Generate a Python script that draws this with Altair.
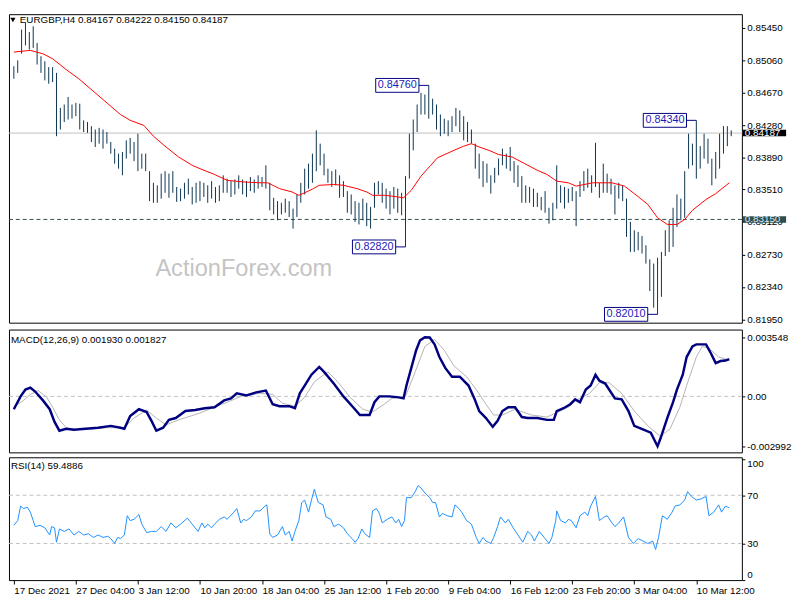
import altair as alt
import pandas as pd

# ---------------- data ----------------
header_text = "EURGBP,H4  0.84167 0.84222 0.84150 0.84187"
macd_header = "MACD(12,26,9) 0.001930 0.001827"
rsi_header = "RSI(14) 59.4886"
watermark = "ActionForex.com"

bar_high = [
    0.8499, 0.8506, 0.8543, 0.8551, 0.8540, 0.8547, 0.8527, 0.8511, 0.8505, 0.8498,
    0.8498, 0.8491, 0.8449, 0.8453, 0.8462, 0.8453, 0.8455, 0.8454, 0.8434, 0.8432,
    0.8427, 0.8423, 0.8425, 0.8423, 0.8420, 0.8408, 0.8400, 0.8394, 0.8396, 0.8410,
    0.8413, 0.8408, 0.8418, 0.8394, 0.8394, 0.8373, 0.8359, 0.8356, 0.8370, 0.8373,
    0.8370, 0.8373, 0.8354, 0.8352, 0.8359, 0.8364, 0.8354, 0.8359, 0.8361, 0.8359,
    0.8356, 0.8361, 0.8354, 0.8356, 0.8368, 0.8364, 0.8361, 0.8363, 0.8368, 0.8363,
    0.8361, 0.8366, 0.8363, 0.8368, 0.8366, 0.8380, 0.8359, 0.8341, 0.8337, 0.8335,
    0.8340, 0.8337, 0.8328, 0.8345, 0.8359, 0.8376, 0.8382, 0.8394, 0.8422, 0.8406,
    0.8394, 0.8376, 0.8373, 0.8375, 0.8368, 0.8361, 0.8349, 0.8345, 0.8337, 0.8335,
    0.8340, 0.8335, 0.8330, 0.8359, 0.8361, 0.8359, 0.8352, 0.8349, 0.8354, 0.8352,
    0.8347, 0.8367, 0.8418, 0.8435, 0.8453, 0.8467, 0.8465, 0.8476, 0.8460, 0.8453,
    0.8441, 0.8436, 0.8434, 0.8439, 0.8449, 0.8446, 0.8439, 0.8432, 0.8423, 0.8406,
    0.8394, 0.8385, 0.8382, 0.8368, 0.8377, 0.8388, 0.8400, 0.8394, 0.8402, 0.8385,
    0.8380, 0.8367, 0.8356, 0.8354, 0.8352, 0.8347, 0.8342, 0.8349, 0.8329, 0.8335,
    0.8380, 0.8356, 0.8354, 0.8352, 0.8354, 0.8349, 0.8361, 0.8373, 0.8376, 0.8368,
    0.8407, 0.8359, 0.8382, 0.8370, 0.8364, 0.8356, 0.8359, 0.8356, 0.8340, 0.8312,
    0.8302, 0.8300, 0.8295, 0.8284, 0.8267, 0.8262, 0.8269, 0.8276, 0.8302, 0.8314,
    0.8329, 0.8345, 0.8340, 0.8373, 0.8418, 0.8406, 0.8434, 0.8403, 0.8418, 0.8412,
    0.8388, 0.8396, 0.8418, 0.8427, 0.8427, 0.8422,
]
bar_low = [
    0.8484, 0.8491, 0.8514, 0.8524, 0.8519, 0.8521, 0.8501, 0.8491, 0.8482, 0.8478,
    0.8480, 0.8415, 0.8423, 0.8432, 0.8435, 0.8436, 0.8439, 0.8423, 0.8420, 0.8419,
    0.8408, 0.8402, 0.8406, 0.8400, 0.8406, 0.8394, 0.8382, 0.8376, 0.8368, 0.8388,
    0.8394, 0.8385, 0.8373, 0.8376, 0.8373, 0.8337, 0.8335, 0.8335, 0.8340, 0.8347,
    0.8341, 0.8347, 0.8336, 0.8337, 0.8340, 0.8345, 0.8333, 0.8335, 0.8337, 0.8342,
    0.8335, 0.8340, 0.8335, 0.8337, 0.8347, 0.8347, 0.8342, 0.8345, 0.8352, 0.8345,
    0.8342, 0.8349, 0.8347, 0.8352, 0.8354, 0.8352, 0.8326, 0.8321, 0.8314, 0.8321,
    0.8323, 0.8318, 0.8304, 0.8318, 0.8335, 0.8345, 0.8352, 0.8359, 0.8373, 0.8380,
    0.8368, 0.8359, 0.8354, 0.8356, 0.8341, 0.8342, 0.8323, 0.8321, 0.8312, 0.8309,
    0.8314, 0.8307, 0.8304, 0.8329, 0.8345, 0.8335, 0.8328, 0.8321, 0.8328, 0.8323,
    0.8320, 0.8282, 0.8364, 0.8398, 0.8420, 0.8441, 0.8441, 0.8436, 0.8441, 0.8423,
    0.8415, 0.8418, 0.8415, 0.8420, 0.8427, 0.8420, 0.8410, 0.8408, 0.8406, 0.8376,
    0.8364, 0.8354, 0.8359, 0.8346, 0.8359, 0.8368, 0.8380, 0.8376, 0.8373, 0.8359,
    0.8354, 0.8335, 0.8335, 0.8335, 0.8330, 0.8330, 0.8326, 0.8323, 0.8310, 0.8314,
    0.8328, 0.8335, 0.8328, 0.8335, 0.8337, 0.8307, 0.8342, 0.8349, 0.8353, 0.8347,
    0.8354, 0.8341, 0.8347, 0.8347, 0.8345, 0.8321, 0.8340, 0.8337, 0.8294, 0.8276,
    0.8276, 0.8278, 0.8274, 0.8262, 0.8229, 0.8209, 0.8201, 0.8222, 0.8271, 0.8276,
    0.8282, 0.8306, 0.8314, 0.8317, 0.8376, 0.8380, 0.8364, 0.8376, 0.8388, 0.8382,
    0.8356, 0.8364, 0.8376, 0.8394, 0.8403, 0.8415,
]

ma_bar = [0, 4.25, 7.5, 10, 13.5, 16.75, 21, 24.25, 27.5, 30,
          33.5, 36, 39.25, 42.5, 46, 48, 51.75, 55, 59.25, 63.5,
          65.5, 68.5, 71.75, 73.5, 75, 77.25, 78.75, 82.5, 85, 88.5,
          91, 92.5, 95.5, 97.5, 100.5, 102.5, 105, 107.5, 109.25, 113.5,
          116, 118, 120, 122.5, 125, 128.5, 131.75, 135, 137.5, 140,
          143, 145, 149.25, 154.25, 157.5, 160, 163.5, 166, 168.5, 171,
          173, 175, 178.5, 181, 184.5]
ma_val = [0.8516, 0.8518, 0.8514, 0.8508, 0.8495, 0.8484, 0.8467, 0.8454, 0.8441, 0.8434,
          0.8428, 0.8415, 0.8402, 0.8390, 0.8380, 0.8376, 0.8369, 0.8362, 0.8360, 0.8359,
          0.8359, 0.8352, 0.8348, 0.8344, 0.8347, 0.8352, 0.8356, 0.8357, 0.8356, 0.8352,
          0.8348, 0.8344, 0.8344, 0.8343, 0.8341, 0.8350, 0.8367, 0.8380, 0.8389, 0.8398,
          0.8403, 0.8406, 0.8402, 0.8398, 0.8393, 0.8390, 0.8382, 0.8374, 0.8369, 0.8361,
          0.8359, 0.8355, 0.8359, 0.8359, 0.8355, 0.8346, 0.8333, 0.8317, 0.8309, 0.8309,
          0.8315, 0.8326, 0.8339, 0.8346, 0.8359]

macd_bar = [0, 1.75, 3, 4.25, 5.5, 7.5, 9.25, 10.5, 11.75, 13.5,
            15.5, 18.5, 21.75, 25, 27.5, 28.5, 30, 32.25, 34.25, 35.5,
            36.75, 38.5, 40, 41.75, 44.25, 46.75, 49.25, 51.75, 54.25, 56,
            57.5, 60, 62.5, 65, 66.75, 68.5, 71, 72.5, 73.75, 75,
            76.75, 78.75, 80, 82.5, 85, 87.5, 89.25, 91.75, 93, 94.25,
            96.75, 99.25, 100.5, 101.25, 102.5, 103.75, 104.75, 106, 107.25, 108.5,
            109.75, 111.25, 113, 115, 117.25, 118.75, 120, 121.75, 123.5, 124.75,
            126, 127.5, 129.25, 131, 132.5, 135, 137.5, 139.25, 140, 141.75,
            143.5, 144.75, 146, 147.5, 148.75, 150, 151, 152.5, 155, 156.75,
            158.5, 160, 161.75, 164.25, 166, 166.75, 168.5, 170, 171, 172.5,
            173.5, 175, 176, 178.5, 179.75, 181, 182.25, 183.5, 184.5]
macd_val = [-0.00077, 0.0, 0.00041, 0.00053, 0.00029, -0.00024, -0.00077, -0.00153, -0.00206, -0.00194,
            -0.00200, -0.00194, -0.00188, -0.00177, -0.00188, -0.00194, -0.00118, -0.00077, -0.00094, -0.00147,
            -0.00206, -0.00188, -0.00141, -0.00130, -0.00088, -0.00082, -0.00071, -0.00065, -0.00024, -0.00012,
            0.00018, 0.00006, 0.00024, 0.00035, -0.00047, -0.00059, -0.00059, -0.00071, 0.00018, 0.00065,
            0.00130, 0.00177, 0.00147, 0.00077, 0.0, -0.00065, -0.00112, -0.00112, -0.00035, 0.0,
            0.0, -0.00006, -0.00012, 0.00065, 0.00171, 0.00277, 0.00336, 0.003548, 0.00353, 0.00312,
            0.00236, 0.00171, 0.00118, 0.00118, 0.00065, -0.00012, -0.00088, -0.00130, -0.00183, -0.00147,
            -0.00088, -0.00065, -0.00065, -0.00124, -0.00130, -0.00130, -0.00141, -0.00141, -0.00088, -0.00071,
            -0.00047, -0.00018, -0.00035, 0.00041, 0.00065, 0.00130, 0.00094, 0.00077, -0.00012, -0.00018,
            -0.00088, -0.00177, -0.00194, -0.00218, -0.002992, -0.00253, -0.00130, -0.00035, 0.00041, 0.00130,
            0.00236, 0.00300, 0.00312, 0.00312, 0.00259, 0.00200, 0.00212, 0.00215, 0.00224]

signal_bar = [0, 2.5, 4.25, 6.25, 8.5, 10, 11.75, 13.5, 16, 24.25,
              28.5, 31, 34.25, 36.75, 39.25, 42.5, 48, 51, 55, 59.25,
              63.5, 66.75, 69.25, 72.5, 75, 77.5, 81, 83.5, 86.75, 90,
              92.5, 95.5, 97.5, 101, 103.5, 106, 108.5, 111, 113.5, 116.75,
              119.25, 121.75, 123.75, 126, 129.25, 133.5, 137.5, 143, 145, 148.5,
              151, 153.5, 156.75, 160, 163.5, 166.75, 169.25, 171.75, 173.5, 176,
              177.5, 179.25, 181.75, 184.5]
signal_val = [-0.00065, -0.00024, 0.00012, 0.00035, -0.00006, -0.00065, -0.00141, -0.00188, -0.00200, -0.00188,
              -0.00188, -0.00130, -0.00082, -0.00130, -0.00171, -0.00141, -0.00100, -0.00071, -0.00035, 0.00006,
              0.00018, 0.00012, -0.00041, -0.00059, -0.00006, 0.00088, 0.00147, 0.00088, -0.00006, -0.00077,
              -0.00094, -0.00047, -0.00012, 0.0, 0.00147, 0.00300, 0.00342, 0.00277, 0.00183, 0.00118,
              0.00041, -0.00047, -0.00112, -0.00112, -0.00077, -0.00112, -0.00124, -0.00065, -0.00024, 0.00018,
              0.00082, 0.00082, 0.00018, -0.00088, -0.00177, -0.00241, -0.00194, -0.00065, 0.00065, 0.00236,
              0.00300, 0.00289, 0.00236, 0.00218]

rsi_bar = [0, 1, 1.75, 2.5, 3.5, 4.25, 5, 5.5, 6.75, 8,
           9.25, 9.75, 10.5, 11, 11.75, 13, 14.25, 15.5, 16.75, 18,
           19.25, 20.5, 21.75, 23, 24.25, 25, 26, 26.75, 27.5, 28.5,
           29.25, 30, 31, 32.25, 33, 34.25, 35.5, 36.75, 38, 39.25,
           40.5, 41.75, 43, 44.75, 46, 47.5, 48.5, 49.25, 50, 51,
           51.75, 53, 54.25, 55, 56.75, 57.5, 58.5, 59.25, 60, 61.25,
           62.25, 63.5, 64.75, 65.25, 66, 66.75, 68, 69.25, 70, 71,
           71.75, 72.5, 73.5, 74.25, 75, 76, 76.75, 77.5, 78.5, 79.75,
           80.5, 81.75, 82.5, 83.75, 85, 86, 87.25, 88, 88.75, 89.75,
           90.5, 91.75, 92.5, 93.5, 94.25, 95, 96.25, 97.5, 98.5, 99.25,
           100, 100.75, 101.25, 102.5, 103.5, 104.25, 105, 106.25, 107.25, 108,
           108.75, 109.75, 110.5, 111.75, 113, 113.75, 114.75, 115.5, 116.75, 118,
           119.25, 120, 121, 121.75, 123, 123.75, 124.75, 125.5, 126.75, 127.5,
           128.75, 130, 131.25, 132.5, 133.5, 134.25, 135.5, 136.75, 138, 138.75,
           139.75, 140, 141, 142.25, 143, 143.75, 145, 146, 147.25, 148,
           148.75, 150, 151, 152.25, 153, 154.25, 155, 156, 157.25, 158.5,
           159.75, 161, 162.25, 163.5, 164.75, 165.5, 166.25, 167.25, 168.5, 169.75,
           170.5, 171.75, 173, 173.75, 174.75, 176, 177.25, 178.5, 179.25, 180.5,
           181.75, 182.5, 183.5, 184.5]
rsi_val = [45, 49, 61, 59, 60, 56, 49, 44, 45, 43,
           37, 44, 43, 31, 42, 40, 42, 37, 40, 37,
           38, 35, 37, 35, 36, 34, 30, 35, 34, 37,
           53, 49, 50, 54, 46, 39, 40, 40, 44, 40,
           47, 43, 46, 51, 46, 40, 47, 43, 46, 43,
           46, 50, 52, 50, 56, 59, 47, 50, 49, 52,
           57, 57, 61, 62, 38, 35, 37, 44, 37, 40,
           32, 40, 49, 64, 66, 56, 66, 75, 64, 62,
           52, 50, 44, 46, 43, 38, 34, 31, 34, 42,
           38, 35, 57, 59, 55, 47, 50, 52, 47, 50,
           44, 49, 68, 68, 73, 78, 76, 71, 68, 64,
           64, 52, 55, 53, 52, 62, 59, 56, 49, 46,
           35, 30, 35, 32, 30, 35, 44, 52, 47, 50,
           43, 37, 31, 40, 37, 32, 40, 35, 30, 35,
           49, 57, 49, 47, 50, 49, 43, 53, 56, 53,
           61, 69, 49, 52, 53, 47, 44, 47, 52, 35,
           30, 34, 32, 30, 32, 25, 35, 53, 50, 56,
           61, 62, 66, 73, 69, 66, 67, 69, 53, 56,
           62, 56, 61, 59.49]

price_ticks = [0.8545, 0.8506, 0.8467, 0.8428, 0.8389, 0.8351, 0.8312, 0.8273, 0.8234, 0.8195]
macd_ticks = [0.003548, 0.0, -0.002992]
rsi_ticks = [100, 70, 30, 0]
rsi_levels = [70, 30]
time_tick_bar = [0, 16, 32, 48, 64, 80, 96, 112, 128, 144, 160, 176]
time_tick_label = ["17 Dec 2021", "27 Dec 04:00", "3 Jan 12:00", "10 Jan 20:00", "18 Jan 04:00",
                   "25 Jan 12:00", "1 Feb 20:00", "9 Feb 04:00", "16 Feb 12:00", "23 Feb 20:00",
                   "3 Mar 04:00", "10 Mar 12:00"]

swing_bar = [107, 101, 176, 166]
swing_price = [0.8476, 0.8282, 0.8434, 0.8201]
swing_label = ["0.84760", "0.82820", "0.84340", "0.82010"]

support_level = 0.8315
last_price = 0.84187

# ---------------- style ----------------
FONT = "Liberation Sans"
W = 746
H_MAIN, H_SUB = 314, 125
BAR_COLOR = "#0A3350"
NAVY = "#000080"
TAG_BLUE = "#1A1AB8"

x_scale = alt.Scale(domain=[-1.25, 187.75], nice=False, zero=False)
price_scale = alt.Scale(domain=[0.8191, 0.85615], nice=False, zero=False)
macd_scale = alt.Scale(domain=[-0.00336, 0.00401], nice=False, zero=False)
rsi_scale = alt.Scale(domain=[-0.4, 101.5], nice=False, zero=False)


def right_axis(values, **kw):
    return alt.Axis(orient="right", values=values, title=None, grid=False, domain=False,
                    ticks=True, tickSize=3, tickColor="#000000", labelColor="#000000",
                    labelFont=FONT, labelFontSize=10, labelPadding=2, labelOverlap=False,
                    labelFlush=False, **kw)


price_axis = right_axis(price_ticks, format=".5f")
macd_axis = right_axis(
    macd_ticks,
    labelExpr="datum.value == 0 ? '0.00' : (datum.value < 0 ? '-' : '') + format(abs(datum.value), '.6f')")
rsi_axis = right_axis(rsi_ticks, format="d",
                      labelOffset={"expr": "datum.value == 100 ? 5 : (datum.value == 0 ? -5 : 0)"})

label_expr = " : ".join(f"datum.value == {b} ? '{t}'" for b, t in zip(time_tick_bar, time_tick_label)) + " : ''"
time_axis = alt.Axis(values=time_tick_bar, labelExpr=label_expr, title=None, grid=False, domain=False,
                     tickSize=4, tickColor="#000000", labelColor="#000000", labelFont=FONT,
                     labelFontSize=10, labelAlign="left", labelPadding=2, labelOverlap=False,
                     labelFlush=False)

x_hidden = alt.X("bar:Q", scale=x_scale, axis=None)


def py(field):
    return alt.Y(field, type="quantitative", scale=price_scale, axis=price_axis)


# ---------------- main price panel ----------------
bars_df = pd.DataFrame({"bar": list(range(len(bar_high))), "high": bar_high, "low": bar_low})
ma_df = pd.DataFrame({"bar": ma_bar, "ma": ma_val})
swing_df = pd.DataFrame({"bar": swing_bar, "price": swing_price, "label": swing_label})
tag_df = pd.DataFrame({"price": [last_price, support_level],
                       "label": [f"{last_price:.5f}", f"{support_level:.5f}"],
                       "bg": ["#000000", "#2F4F4F"], "fg": ["#FFFFFF", "#DDE8F0"]})
one = pd.DataFrame({"t": [header_text]})

support_line = alt.Chart(one).mark_rule(color="#2F4F4F", strokeDash=[4, 3], strokeWidth=1).encode(
    y=alt.Y(datum=support_level, type="quantitative", scale=price_scale, axis=price_axis))
last_line = alt.Chart(one).mark_rule(color="#C0C0C0", strokeWidth=1).encode(
    y=alt.Y(datum=last_price, type="quantitative", scale=price_scale, axis=price_axis))

bars = alt.Chart(bars_df).mark_rule(color=BAR_COLOR, strokeWidth=1).encode(
    x=x_hidden, y=py("low:Q"), y2="high:Q")

ma_line = alt.Chart(ma_df).mark_line(color="#FF0000", strokeWidth=1).encode(
    x=x_hidden, y=py("ma:Q"))

box_path = "M-1,-0.32L1,-0.32L1,0.32L-1,0.32Z"
swing_box = alt.Chart(swing_df).mark_point(
    shape=box_path, size=44 * 44, filled=True, fill="#FFFFFF", stroke=NAVY, strokeWidth=1,
    opacity=1, xOffset=-32).encode(x=x_hidden, y=py("price:Q"))
swing_link = alt.Chart(swing_df).mark_rule(color=NAVY, strokeWidth=1, xOffset=-10).encode(
    x=x_hidden, x2=alt.X2("bar"), y=py("price:Q"))
swing_text = alt.Chart(swing_df).mark_text(
    xOffset=-32, font=FONT, fontSize=11, color=TAG_BLUE, align="center", baseline="middle").encode(
    x=x_hidden, y=py("price:Q"), text="label:N")

tag_path = "M-1,-0.15L1,-0.15L1,0.15L-1,0.15Z"
tag_box = alt.Chart(tag_df).mark_point(shape=tag_path, size=44 * 44, filled=True, opacity=1,
                                       strokeWidth=0).encode(
    x=alt.value(W + 23), y=py("price:Q"), color=alt.Color("bg:N", scale=None))
tag_text = alt.Chart(tag_df).mark_text(align="left", baseline="middle", font=FONT, fontSize=10).encode(
    x=alt.value(W + 3), y=py("price:Q"), text="label:N", color=alt.Color("fg:N", scale=None))

title_mark = alt.Chart(one).mark_text(align="left", baseline="middle", font=FONT, fontSize=10,
                                      color="#000000").encode(
    x=alt.value(11), y=alt.value(6), text="t:N")
tri_mark = alt.Chart(one).mark_point(shape="triangle-down", size=28, filled=True, color="#000000",
                                     opacity=1).encode(x=alt.value(4), y=alt.value(6))
wm_mark = alt.Chart(pd.DataFrame({"t": [watermark]})).mark_text(
    font=FONT, fontSize=24, color="#C4C4C4", align="center", baseline="middle").encode(
    x=alt.value(239), y=alt.value(259), text="t:N")

main = alt.layer(last_line, support_line, wm_mark, bars, ma_line, swing_link, swing_box, swing_text,
                 tag_box, tag_text, title_mark, tri_mark).properties(width=W, height=H_MAIN)

# ---------------- MACD panel ----------------
macd_df = pd.DataFrame({"bar": macd_bar, "v": macd_val})
signal_df = pd.DataFrame({"bar": signal_bar, "v": signal_val})
my = alt.Y("v:Q", scale=macd_scale, axis=macd_axis)

macd_zero = alt.Chart(pd.DataFrame({"t": [macd_header]})).mark_rule(
    color="#C0C0C0", strokeDash=[4, 3], strokeWidth=1).encode(
    y=alt.Y(datum=0, type="quantitative", scale=macd_scale, axis=macd_axis))
signal_line = alt.Chart(signal_df).mark_line(color="#B4B4B4", strokeWidth=1).encode(x=x_hidden, y=my)
macd_line = alt.Chart(macd_df).mark_line(color=NAVY, strokeWidth=2.5).encode(x=x_hidden, y=my)
macd_title = alt.Chart(pd.DataFrame({"t": [macd_header]})).mark_text(
    align="left", baseline="middle", font=FONT, fontSize=10, color="#000000").encode(
    x=alt.value(2), y=alt.value(11), text="t:N")

macd = alt.layer(macd_zero, signal_line, macd_line, macd_title).properties(width=W, height=H_SUB)

# ---------------- RSI panel ----------------
rsi_df = pd.DataFrame({"bar": rsi_bar, "v": rsi_val})
lvl_df = pd.DataFrame({"v": rsi_levels})
rx = alt.X("bar:Q", scale=x_scale, axis=time_axis)
ry = alt.Y("v:Q", scale=rsi_scale, axis=rsi_axis)

rsi_lvls = alt.Chart(lvl_df).mark_rule(color="#C0C0C0", strokeDash=[4, 3], strokeWidth=1).encode(y=ry)
rsi_line = alt.Chart(rsi_df).mark_line(color="#1E90FF", strokeWidth=1).encode(x=rx, y=ry)
rsi_title = alt.Chart(pd.DataFrame({"t": [rsi_header]})).mark_text(
    align="left", baseline="middle", font=FONT, fontSize=10, color="#000000").encode(
    x=alt.value(2), y=alt.value(9), text="t:N")

rsi = alt.layer(rsi_lvls, rsi_line, rsi_title).properties(width=W, height=H_SUB)

chart = alt.vconcat(main, macd, rsi, spacing=3).properties(
    padding=0, background="#FFFFFF").configure_view(stroke="#000000", strokeWidth=1)

chart.save("out.html", embed_options={"renderer": "svg", "actions": False})
